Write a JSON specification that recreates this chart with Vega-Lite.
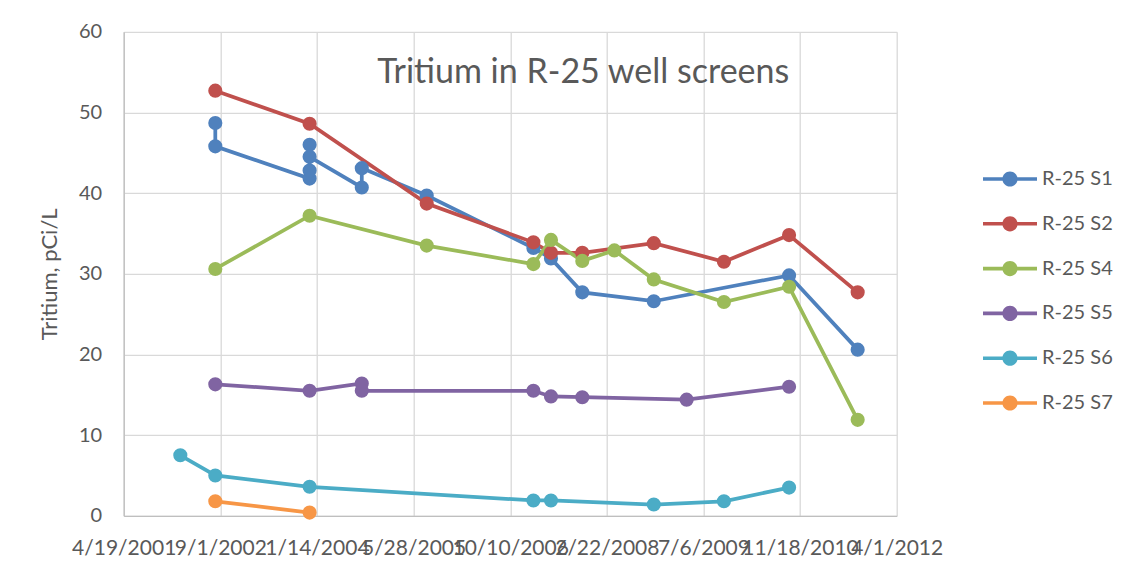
{
  "$schema": "https://vega.github.io/schema/vega-lite/v6.json",
  "width": 773,
  "height": 484,
  "autosize": {"type": "none"},
  "padding": {"left": 123.7, "top": 31.8, "right": 247.3, "bottom": 65.2},
  "background": "white",
  "config": {
    "font": "Lato",
    "view": {"stroke": null},
    "axis": {"labelFont": "Lato", "titleFont": "Lato"},
    "legend": {"labelFont": "Lato"}
  },
  "title": {
    "text": "Tritium in R-25 well screens",
    "font": "Lato",
    "fontSize": 34,
    "fontWeight": "normal",
    "color": "#595959",
    "anchor": "middle",
    "frame": "group",
    "baseline": "alphabetic",
    "offset": 0,
    "dx": 73,
    "dy": 95
  },
  "data": {
    "values": [
      {"series": "R-25 S1", "date": "2002-08-06", "value": 48.7},
      {"series": "R-25 S1", "date": "2002-08-06", "value": 45.8},
      {"series": "R-25 S1", "date": "2003-12-07", "value": 41.8},
      {"series": "R-25 S1", "date": "2003-12-07", "value": 42.8},
      {"series": "R-25 S1", "date": "2003-12-07", "value": 46.0},
      {"series": "R-25 S1", "date": "2003-12-07", "value": 44.5},
      {"series": "R-25 S1", "date": "2004-09-02", "value": 40.7},
      {"series": "R-25 S1", "date": "2004-09-02", "value": 43.1},
      {"series": "R-25 S1", "date": "2005-08-04", "value": 39.7},
      {"series": "R-25 S1", "date": "2007-02-07", "value": 33.2},
      {"series": "R-25 S1", "date": "2007-05-09", "value": 31.9},
      {"series": "R-25 S1", "date": "2007-10-18", "value": 27.7},
      {"series": "R-25 S1", "date": "2008-10-22", "value": 26.6},
      {"series": "R-25 S1", "date": "2010-09-22", "value": 29.8},
      {"series": "R-25 S1", "date": "2011-09-12", "value": 20.6},
      {"series": "R-25 S2", "date": "2002-08-06", "value": 52.7},
      {"series": "R-25 S2", "date": "2003-12-07", "value": 48.6},
      {"series": "R-25 S2", "date": "2005-08-04", "value": 38.7},
      {"series": "R-25 S2", "date": "2007-02-07", "value": 33.9},
      {"series": "R-25 S2", "date": "2007-05-09", "value": 32.6},
      {"series": "R-25 S2", "date": "2007-10-18", "value": 32.6},
      {"series": "R-25 S2", "date": "2008-10-22", "value": 33.8},
      {"series": "R-25 S2", "date": "2009-10-20", "value": 31.5},
      {"series": "R-25 S2", "date": "2010-09-22", "value": 34.8},
      {"series": "R-25 S2", "date": "2011-09-12", "value": 27.7},
      {"series": "R-25 S4", "date": "2002-08-06", "value": 30.6},
      {"series": "R-25 S4", "date": "2003-12-07", "value": 37.2},
      {"series": "R-25 S4", "date": "2005-08-04", "value": 33.5},
      {"series": "R-25 S4", "date": "2007-02-07", "value": 31.2},
      {"series": "R-25 S4", "date": "2007-05-09", "value": 34.2},
      {"series": "R-25 S4", "date": "2007-10-18", "value": 31.6},
      {"series": "R-25 S4", "date": "2008-04-01", "value": 32.9},
      {"series": "R-25 S4", "date": "2008-10-22", "value": 29.3},
      {"series": "R-25 S4", "date": "2009-10-20", "value": 26.5},
      {"series": "R-25 S4", "date": "2010-09-22", "value": 28.4},
      {"series": "R-25 S4", "date": "2011-09-12", "value": 11.9},
      {"series": "R-25 S5", "date": "2002-08-06", "value": 16.3},
      {"series": "R-25 S5", "date": "2003-12-07", "value": 15.5},
      {"series": "R-25 S5", "date": "2004-09-02", "value": 16.4},
      {"series": "R-25 S5", "date": "2004-09-02", "value": 15.5},
      {"series": "R-25 S5", "date": "2007-02-07", "value": 15.5},
      {"series": "R-25 S5", "date": "2007-05-09", "value": 14.8},
      {"series": "R-25 S5", "date": "2007-10-18", "value": 14.7},
      {"series": "R-25 S5", "date": "2009-04-10", "value": 14.4},
      {"series": "R-25 S5", "date": "2010-09-22", "value": 16.0},
      {"series": "R-25 S6", "date": "2002-02-06", "value": 7.5},
      {"series": "R-25 S6", "date": "2002-08-06", "value": 5.0},
      {"series": "R-25 S6", "date": "2003-12-07", "value": 3.6},
      {"series": "R-25 S6", "date": "2007-02-07", "value": 1.9},
      {"series": "R-25 S6", "date": "2007-05-09", "value": 1.9},
      {"series": "R-25 S6", "date": "2008-10-22", "value": 1.4},
      {"series": "R-25 S6", "date": "2009-10-20", "value": 1.8},
      {"series": "R-25 S6", "date": "2010-09-22", "value": 3.5},
      {"series": "R-25 S7", "date": "2002-08-06", "value": 1.8},
      {"series": "R-25 S7", "date": "2003-12-07", "value": 0.4}
    ]
  },
  "encoding": {
    "x": {
      "field": "date",
      "type": "temporal",
      "scale": {
        "type": "utc",
        "domain": [
          {"year": 2001, "month": 4, "date": 19, "utc": true},
          {"year": 2012, "month": 4, "date": 1, "utc": true}
        ],
        "nice": false
      },
      "axis": {
        "values": [
          {"year": 2001, "month": 4, "date": 19, "utc": true},
          {"year": 2002, "month": 9, "date": 1, "utc": true},
          {"year": 2004, "month": 1, "date": 14, "utc": true},
          {"year": 2005, "month": 5, "date": 28, "utc": true},
          {"year": 2006, "month": 10, "date": 10, "utc": true},
          {"year": 2008, "month": 2, "date": 22, "utc": true},
          {"year": 2009, "month": 7, "date": 6, "utc": true},
          {"year": 2010, "month": 11, "date": 18, "utc": true},
          {"year": 2012, "month": 4, "date": 1, "utc": true}
        ],
        "format": "%-m/%-d/%Y",
        "title": null,
        "labelFontSize": 21,
        "labelColor": "#595959",
        "labelOverlap": false,
        "labelFlush": false,
        "labelPadding": 22,
        "ticks": false,
        "grid": true,
        "gridColor": "#D9D9D9",
        "gridWidth": 1.3,
        "domainColor": "#BFBFBF",
        "domainWidth": 1.3
      }
    },
    "y": {
      "field": "value",
      "type": "quantitative",
      "scale": {"domain": [0, 60], "nice": false},
      "axis": {
        "values": [0, 10, 20, 30, 40, 50, 60],
        "title": "Tritium, pCi/L",
        "titleFontSize": 22,
        "titleFontWeight": "normal",
        "titleColor": "#595959",
        "titlePadding": 17,
        "labelFontSize": 20,
        "labelColor": "#595959",
        "labelPadding": 22,
        "ticks": false,
        "grid": true,
        "gridColor": "#D9D9D9",
        "gridWidth": 1.3,
        "domainColor": "#BFBFBF",
        "domainWidth": 1.3
      }
    },
    "color": {
      "field": "series",
      "type": "nominal",
      "scale": {
        "domain": ["R-25 S1", "R-25 S2", "R-25 S4", "R-25 S5", "R-25 S6", "R-25 S7"],
        "range": ["#4F81BD", "#C0504D", "#9BBB59", "#8064A2", "#4BACC6", "#F79646"]
      },
      "legend": {
        "title": null,
        "orient": "none",
        "legendX": 866.3,
        "legendY": 127.2,
        "padding": 0,
        "symbolType": "M-1.35,-0.09H1.35V0.09H-1.35Z M-0.38,0A0.38,0.38,0,1,1,0.38,0A0.38,0.38,0,1,1,-0.38,0Z",
        "symbolSize": 1600,
        "symbolStrokeWidth": 0,
        "labelFontSize": 20,
        "labelColor": "#595959",
        "labelOffset": 12,
        "rowPadding": 14.8,
        "encode": {
          "symbols": {
            "update": {
              "fill": {"scale": "color", "field": "value"},
              "stroke": {"value": "transparent"},
              "opacity": {"value": 1}
            }
          }
        }
      }
    }
  },
  "layer": [
    {"mark": {"type": "line", "strokeWidth": 3.75}},
    {"mark": {"type": "point", "filled": true, "size": 200, "opacity": 1, "shape": "circle"}}
  ]
}
